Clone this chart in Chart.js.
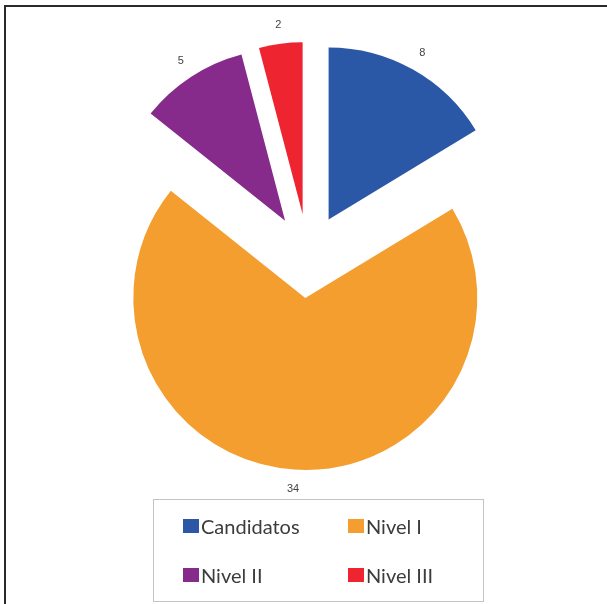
<!DOCTYPE html>
<html>
<head>
<meta charset="utf-8">
<script src="https://cdn.jsdelivr.net/npm/chart.js@4/dist/chart.umd.min.js"></script>
<style>
  html, body { margin: 0; padding: 0; background: #fff; overflow: hidden; }
  #wrap { position: relative; width: 607px; height: 604px; }
  #frame { position: absolute; left: 4px; top: 5px; width: 700px; height: 700px;
           border-left: 2px solid #2a2a2a; border-top: 2px solid #2a2a2a; }
  #myChart { position: absolute; left: 0; top: 0; }
  #legend { position: absolute; left: 153px; top: 499px; width: 329px; height: 101px;
            border: 1.5px solid #c4c4c4; font-family: Lato, 'Open Sans', sans-serif;
            font-size: 20px; color: #3c3c3c; }
  .item { position: absolute; display: flex; align-items: center; height: 20px; }
  .box { width: 16px; height: 14px; margin-right: 2px; }
</style>
</head>
<body>
<div id="wrap">
  <div id="frame"></div>
  <canvas id="myChart" width="607" height="604"></canvas>
  <div id="legend"></div>
</div>
<script>
const labels = ['Candidatos', 'Nivel I', 'Nivel II', 'Nivel III'];
const values = [8, 34, 5, 2];
const colors = ['#2A57A6', '#F49E2F', '#862A8C', '#EE2431'];

const EXPLODE = 42;

// pull every slice out from the centre along its middle angle
const explodePlugin = {
  id: 'explode',
  afterDatasetsUpdate(chart) {
    chart.getDatasetMeta(0).data.forEach(arc => {
      const mid = (arc.startAngle + arc.endAngle) / 2;
      arc.x += Math.cos(mid) * EXPLODE;
      arc.y += Math.sin(mid) * EXPLODE;
    });
  },
  afterDatasetsDraw(chart) {
    const ctx = chart.ctx;
    const data = chart.data.datasets[0].data;
    ctx.save();
    ctx.font = "11px 'Liberation Sans', Arial, sans-serif";
    ctx.fillStyle = '#444';
    ctx.textAlign = 'center';
    ctx.textBaseline = 'middle';
    chart.getDatasetMeta(0).data.forEach((arc, i) => {
      const mid = (arc.startAngle + arc.endAngle) / 2;
      const r = arc.outerRadius + 19;
      ctx.fillText(String(data[i]), arc.x + Math.cos(mid) * r, arc.y + Math.sin(mid) * r);
    });
    ctx.restore();
  }
};

new Chart(document.getElementById('myChart'), {
  type: 'pie',
  data: {
    labels: labels,
    datasets: [{
      data: values,
      backgroundColor: colors,
      borderWidth: 0
    }]
  },
  options: {
    responsive: false,
    animation: false,
    events: [],
    layout: { padding: { left: 136, right: 127, top: 84, bottom: 176 } },
    plugins: {
      legend: { display: false },
      tooltip: { enabled: false }
    }
  },
  plugins: [explodePlugin]
});

// legend box, two columns
const legend = document.getElementById('legend');
labels.forEach((name, i) => {
  const item = document.createElement('div');
  item.className = 'item';
  item.style.left = (29 + (i % 2) * 165) + 'px';
  item.style.top = (16 + Math.floor(i / 2) * 49) + 'px';
  const box = document.createElement('span');
  box.className = 'box';
  box.style.background = colors[i];
  const txt = document.createElement('span');
  txt.textContent = name;
  item.appendChild(box);
  item.appendChild(txt);
  legend.appendChild(item);
});
</script>
</body>
</html>
